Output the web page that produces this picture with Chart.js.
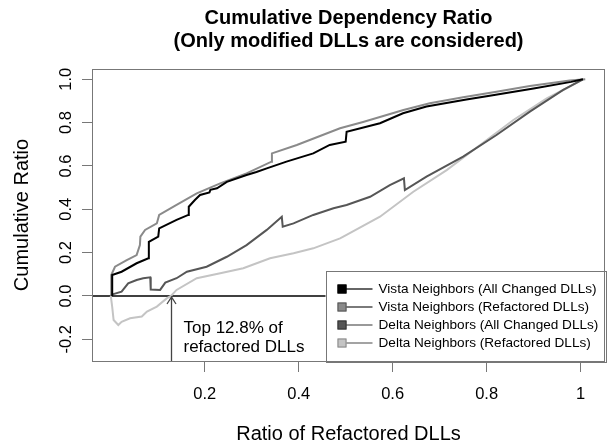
<!DOCTYPE html>
<html>
<head>
<meta charset="utf-8">
<script src="https://cdn.jsdelivr.net/npm/chart.js@4.4.0/dist/chart.umd.min.js"></script>
<style>
  body { margin: 0; background: #fff; }
  canvas { display: block; }
</style>
</head>
<body>
<canvas id="ratioChart" width="613" height="446"></canvas>
<script>
// series labels, as in the legend
const seriesNames = [
    'Vista Neighbors (All Changed DLLs)',
    'Vista Neighbors (Refactored DLLs)',
    'Delta Neighbors (All Changed DLLs)',
    'Delta Neighbors (Refactored DLLs)'
];

// values (ratio of refactored DLLs -> cumulative ratio)
const vistaAllX = [0.003, 0.003, 0.023, 0.055, 0.080, 0.081, 0.101, 0.103, 0.140, 0.165, 0.166, 0.179, 0.190, 0.210, 0.212, 0.226, 0.247, 0.289, 0.310, 0.332, 0.374, 0.431, 0.466, 0.500, 0.502, 0.573, 0.622, 0.672, 0.757, 0.800, 0.900, 0.980, 1.005];
const vistaAllY = [0.000, 0.097, 0.112, 0.151, 0.174, 0.250, 0.274, 0.312, 0.351, 0.374, 0.412, 0.443, 0.466, 0.478, 0.490, 0.497, 0.527, 0.558, 0.572, 0.589, 0.620, 0.658, 0.697, 0.712, 0.758, 0.797, 0.843, 0.874, 0.907, 0.922, 0.958, 0.988, 1.000];

const vistaRefX = [0.001, 0.001, 0.009, 0.034, 0.055, 0.062, 0.063, 0.073, 0.098, 0.103, 0.140, 0.183, 0.233, 0.289, 0.342, 0.343, 0.396, 0.488, 0.537, 0.623, 0.679, 0.750, 0.821, 0.892, 0.977, 1.010];
const vistaRefY = [0.000, 0.097, 0.135, 0.166, 0.189, 0.235, 0.274, 0.305, 0.335, 0.374, 0.420, 0.474, 0.520, 0.566, 0.620, 0.658, 0.697, 0.774, 0.803, 0.858, 0.889, 0.917, 0.943, 0.969, 0.994, 1.000];

const deltaAllX = [0.000, 0.023, 0.037, 0.055, 0.069, 0.084, 0.085, 0.105, 0.116, 0.140, 0.162, 0.204, 0.247, 0.289, 0.332, 0.364, 0.366, 0.389, 0.431, 0.474, 0.502, 0.552, 0.594, 0.624, 0.626, 0.672, 0.750, 0.821, 0.892, 0.963, 1.005];
const deltaAllY = [0.005, 0.020, 0.058, 0.074, 0.082, 0.086, 0.030, 0.028, 0.062, 0.082, 0.112, 0.135, 0.181, 0.235, 0.305, 0.366, 0.320, 0.335, 0.374, 0.405, 0.420, 0.458, 0.512, 0.543, 0.489, 0.551, 0.643, 0.743, 0.851, 0.951, 1.000];

const deltaRefX = [0.000, 0.003, 0.006, 0.016, 0.023, 0.041, 0.066, 0.077, 0.098, 0.119, 0.128, 0.140, 0.183, 0.233, 0.282, 0.339, 0.389, 0.431, 0.488, 0.495, 0.573, 0.644, 0.715, 0.786, 0.857, 0.928, 0.966, 1.005];
const deltaRefY = [0.000, -0.050, -0.111, -0.134, -0.119, -0.103, -0.095, -0.072, -0.049, -0.011, 0.000, 0.028, 0.082, 0.105, 0.128, 0.174, 0.197, 0.220, 0.266, 0.274, 0.366, 0.481, 0.581, 0.697, 0.812, 0.912, 0.954, 1.000];

// axis ticks
const xTicks = [0.2, 0.4, 0.6, 0.8, 1];
const yTicks = [-0.2, 0, 0.2, 0.4, 0.6, 0.8, 1.0];

// annotation: top 12.8% of refactored DLLs
const cutoffX = 0.128;
const noteLines = ['Top 12.8% of', 'refactored DLLs'];

const titleLines = ['Cumulative Dependency Ratio', '(Only modified DLLs are considered)'];

const lineColors = ['#000000', '#8a8a8a', '#565656', '#c4c4c4'];
const swatchEdges = ['#000000', '#555555', '#333333', '#888888'];
const legendLineColors = ['#000000', '#222222', '#555555', '#666666'];
const FONT = '"Liberation Sans", Arial, sans-serif';

function zip(xs, ys) {
    return xs.map((v, i) => ({ x: v, y: ys[i] }));
}

const allSeries = [
    zip(vistaAllX, vistaAllY),
    zip(vistaRefX, vistaRefY),
    zip(deltaAllX, deltaAllY),
    zip(deltaRefX, deltaRefY)
];

const decorPlugin = {
    id: 'decor',
    beforeDatasetsDraw(chart) {
        const { ctx, chartArea: a, scales: { y } } = chart;
        const y0 = y.getPixelForValue(0);
        ctx.save();
        ctx.strokeStyle = '#000';
        ctx.lineWidth = 1.5;
        ctx.beginPath();
        ctx.moveTo(a.left, y0);
        ctx.lineTo(a.right, y0);
        ctx.stroke();
        ctx.restore();
    },
    afterDatasetsDraw(chart) {
        const { ctx, chartArea: a, scales: { x, y } } = chart;
        ctx.save();

        // arrow up to the zero line
        const ax = Math.round(x.getPixelForValue(cutoffX)) + 0.5;
        const y0 = y.getPixelForValue(0);
        ctx.strokeStyle = '#444';
        ctx.lineWidth = 1.3;
        ctx.beginPath();
        ctx.moveTo(ax, a.bottom);
        ctx.lineTo(ax, y0 + 1);
        ctx.moveTo(ax - 4.5, y0 + 8);
        ctx.lineTo(ax, y0 + 1);
        ctx.lineTo(ax + 4.5, y0 + 8);
        ctx.stroke();

        ctx.fillStyle = '#000';
        ctx.font = '17px ' + FONT;
        ctx.textAlign = 'left';
        ctx.textBaseline = 'middle';
        ctx.fillText(noteLines[0], ax + 12, 328);
        ctx.fillText(noteLines[1], ax + 12, 347);

        // legend, bottom right corner
        const lw = 279.5, lh = 90.5;
        const lx = a.right - lw, ly = a.bottom - lh;
        ctx.fillStyle = '#fff';
        ctx.fillRect(lx, ly, lw, lh);
        ctx.strokeStyle = '#777';
        ctx.lineWidth = 1;
        ctx.strokeRect(Math.round(lx) + 0.5, Math.round(ly) + 0.5, Math.round(lw), Math.round(lh));
        ctx.font = '13.6px ' + FONT;
        seriesNames.forEach((name, i) => {
            const cy = ly + 18.5 + i * 18;
            ctx.strokeStyle = legendLineColors[i];
            ctx.lineWidth = 1.2;
            ctx.beginPath();
            ctx.moveTo(lx + 20, cy);
            ctx.lineTo(lx + 47, cy);
            ctx.stroke();
            ctx.fillStyle = lineColors[i];
            ctx.fillRect(lx + 12, cy - 4.5, 9, 9);
            ctx.strokeStyle = swatchEdges[i];
            ctx.lineWidth = 1;
            ctx.strokeRect(lx + 12.5, cy - 4, 8, 8);
            ctx.fillStyle = '#000';
            ctx.fillText(name, lx + 53, cy + 0.5);
        });

        // plot frame
        ctx.strokeStyle = '#777';
        ctx.lineWidth = 1;
        ctx.strokeRect(Math.round(a.left) + 0.5, Math.round(a.top) + 0.5,
            Math.round(a.right - a.left) - 1, Math.round(a.bottom - a.top));

        // title
        ctx.fillStyle = '#000';
        ctx.font = 'bold 20px ' + FONT;
        ctx.textAlign = 'center';
        const cx = (a.left + a.right) / 2;
        ctx.fillText(titleLines[0], cx, 18);
        ctx.fillText(titleLines[1], cx, 41);
        ctx.restore();
    }
};

new Chart(document.getElementById('ratioChart'), {
    type: 'line',
    data: {
        datasets: allSeries.map((pts, i) => ({
            label: seriesNames[i],
            data: pts,
            borderColor: lineColors[i],
            borderWidth: 2,
            pointRadius: 0,
            tension: 0,
            fill: false
        }))
    },
    options: {
        responsive: false,
        animation: false,
        devicePixelRatio: 1,
        layout: { padding: { top: 69, right: 8, left: 0, bottom: 0 } },
        plugins: {
            legend: { display: false },
            title: { display: false },
            tooltip: { enabled: false }
        },
        scales: {
            x: {
                type: 'linear',
                min: -0.04,
                max: 1.052,
                afterBuildTicks: s => { s.ticks = xTicks.map(v => ({ value: v })); },
                afterFit: s => { s.height = 85; },
                grid: { drawOnChartArea: false, tickLength: 11, tickColor: '#777' },
                border: { display: false },
                ticks: {
                    color: '#000',
                    font: { size: 16.5, family: FONT },
                    padding: 13,
                    maxRotation: 0,
                    callback: v => String(v)
                },
                title: {
                    display: true,
                    text: 'Ratio of Refactored DLLs',
                    color: '#000',
                    font: { size: 20, family: FONT },
                    padding: { top: 0, bottom: 0 }
                }
            },
            y: {
                type: 'linear',
                min: -0.30,
                max: 1.0475,
                afterBuildTicks: s => { s.ticks = yTicks.map(v => ({ value: v })); },
                afterFit: s => { s.width = 92; },
                grid: { drawOnChartArea: false, tickLength: 10, tickColor: '#777' },
                border: { display: false },
                ticks: {
                    color: '#000',
                    font: { size: 16.5, family: FONT },
                    padding: 1,
                    minRotation: 90,
                    maxRotation: 90,
                    crossAlign: 'center',
                    callback: v => v.toFixed(1)
                },
                title: {
                    display: true,
                    text: 'Cumulative Ratio',
                    color: '#000',
                    font: { size: 20, family: FONT },
                    padding: { top: 10, bottom: 0 }
                }
            }
        }
    },
    plugins: [decorPlugin]
});
</script>
</body>
</html>
